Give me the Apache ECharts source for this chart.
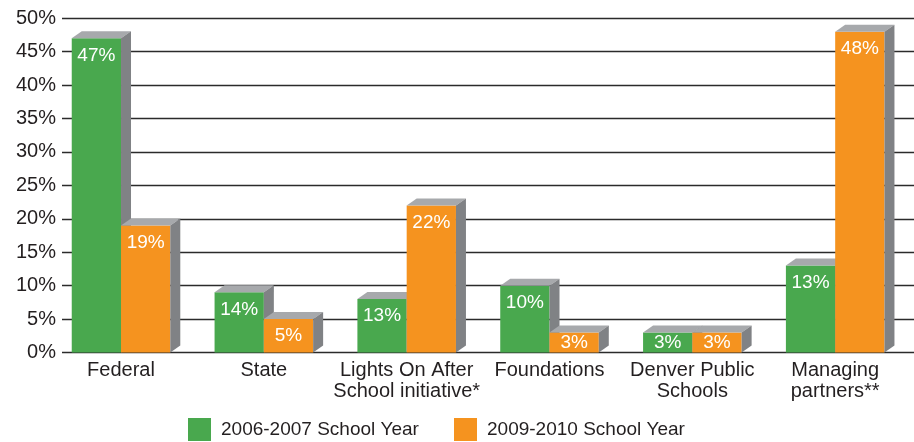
<!DOCTYPE html>
<html><head><meta charset="utf-8">
<script src="https://cdn.jsdelivr.net/npm/echarts@6/dist/echarts.min.js"></script>
<style>html,body{margin:0;padding:0;background:#fff}#c{width:914px;height:442px}</style>
</head><body><div id="c"></div>
<script>
var categories = ['Federal', 'State', 'Lights On After\nSchool initiative*', 'Foundations', 'Denver Public\nSchools', 'Managing\npartners**'];
var seriesNames = ['2006-2007 School Year', '2009-2010 School Year'];
var values2006 = [47, 9, 8, 10, 3, 13];
var values2009 = [19, 5, 22, 3, 3, 48];
var labels2006 = ['47%', '14%', '13%', '10%', '3%', '13%'];
var labels2009 = ['19%', '5%', '22%', '3%', '3%', '48%'];
var yTicks = [0, 5, 10, 15, 20, 25, 30, 35, 40, 45, 50];

var FONT = '"Liberation Sans", Arial, sans-serif';
var GREEN = '#49a84e', ORANGE = '#f5931f', TOPC = '#a7a9ac', SIDEC = '#808285';

function makeRender(side, labels) {
  return function (params, api) {
    var i = api.value(0), v = api.value(1);
    var top = api.coord([i, v]);
    var base = api.coord([i, 0]);
    var band = api.size([1, 0])[0];
    var w = band * 0.345;
    var dx = band * 0.07, dy = 7;
    var x0 = side === 0 ? top[0] - w : top[0];
    var x1 = x0 + w;
    var ty = top[1], by = base[1];
    var ly = Math.min(ty + 17, (ty + by) / 2);
    return {
      type: 'group',
      children: [
        { type: 'rect', shape: { x: x0, y: ty, width: w, height: by - ty }, style: { fill: api.visual('color') } },
        { type: 'polygon', shape: { points: [[x0, ty], [x1, ty], [x1 + dx, ty - dy], [x0 + dx, ty - dy]] }, style: { fill: TOPC } },
        { type: 'polygon', shape: { points: [[x1, ty], [x1 + dx, ty - dy], [x1 + dx, by - dy], [x1, by]] }, style: { fill: SIDEC } },
        { type: 'text', style: { text: labels[params.dataIndex], x: (x0 + x1) / 2, y: ly, align: 'center', verticalAlign: 'middle', fill: '#fff', font: '19px ' + FONT } }
      ]
    };
  };
}

function toData(vals) { return vals.map(function (v, i) { return [i, v]; }); }

var chart = echarts.init(document.getElementById('c'), null, { renderer: 'canvas' });
chart.setOption({
  animation: false,
  backgroundColor: '#fff',
  legend: [
    { data: [seriesNames[0]], left: 188, top: 418, padding: 0, itemWidth: 23, itemHeight: 23, itemGap: 10, icon: 'rect',
      textStyle: { fontFamily: FONT, fontSize: 19, color: '#231f20', padding: [0, 0, 0, 5] } },
    { data: [seriesNames[1]], left: 454, top: 418, padding: 0, itemWidth: 23, itemHeight: 23, itemGap: 10, icon: 'rect',
      textStyle: { fontFamily: FONT, fontSize: 19, color: '#231f20', padding: [0, 0, 0, 5] } }
  ],
  grid: [
    { left: 62, right: 0, top: 18.3, bottom: 89.5 },
    { left: 49.6, width: 857, top: 18.3, bottom: 89.5 }
  ],
  xAxis: [
    { type: 'value', gridIndex: 0, show: false, min: 0, max: 1 },
    { type: 'category', gridIndex: 1, data: categories, axisLine: { show: false }, axisTick: { show: false },
      axisLabel: { interval: 0, margin: 7, fontFamily: FONT, fontSize: 20, lineHeight: 21, color: '#231f20' } }
  ],
  yAxis: [
    { type: 'value', gridIndex: 0, min: 0, max: 50, interval: 5, axisLine: { show: false }, axisTick: { show: false },
      splitLine: { show: true, lineStyle: { color: '#2b2b2b', width: 1.4 } },
      axisLabel: { margin: 6, formatter: '{value}%', fontFamily: FONT, fontSize: 20, color: '#231f20' } },
    { type: 'value', gridIndex: 1, min: 0, max: 50, interval: 5, show: false }
  ],
  series: [
    { name: seriesNames[0], type: 'custom', xAxisIndex: 1, yAxisIndex: 1, clip: false, itemStyle: { color: GREEN },
      encode: { x: 0, y: 1 }, data: toData(values2006), renderItem: makeRender(0, labels2006) },
    { name: seriesNames[1], type: 'custom', xAxisIndex: 1, yAxisIndex: 1, clip: false, itemStyle: { color: ORANGE },
      encode: { x: 0, y: 1 }, data: toData(values2009), renderItem: makeRender(1, labels2009) }
  ]
});
</script></body></html>
